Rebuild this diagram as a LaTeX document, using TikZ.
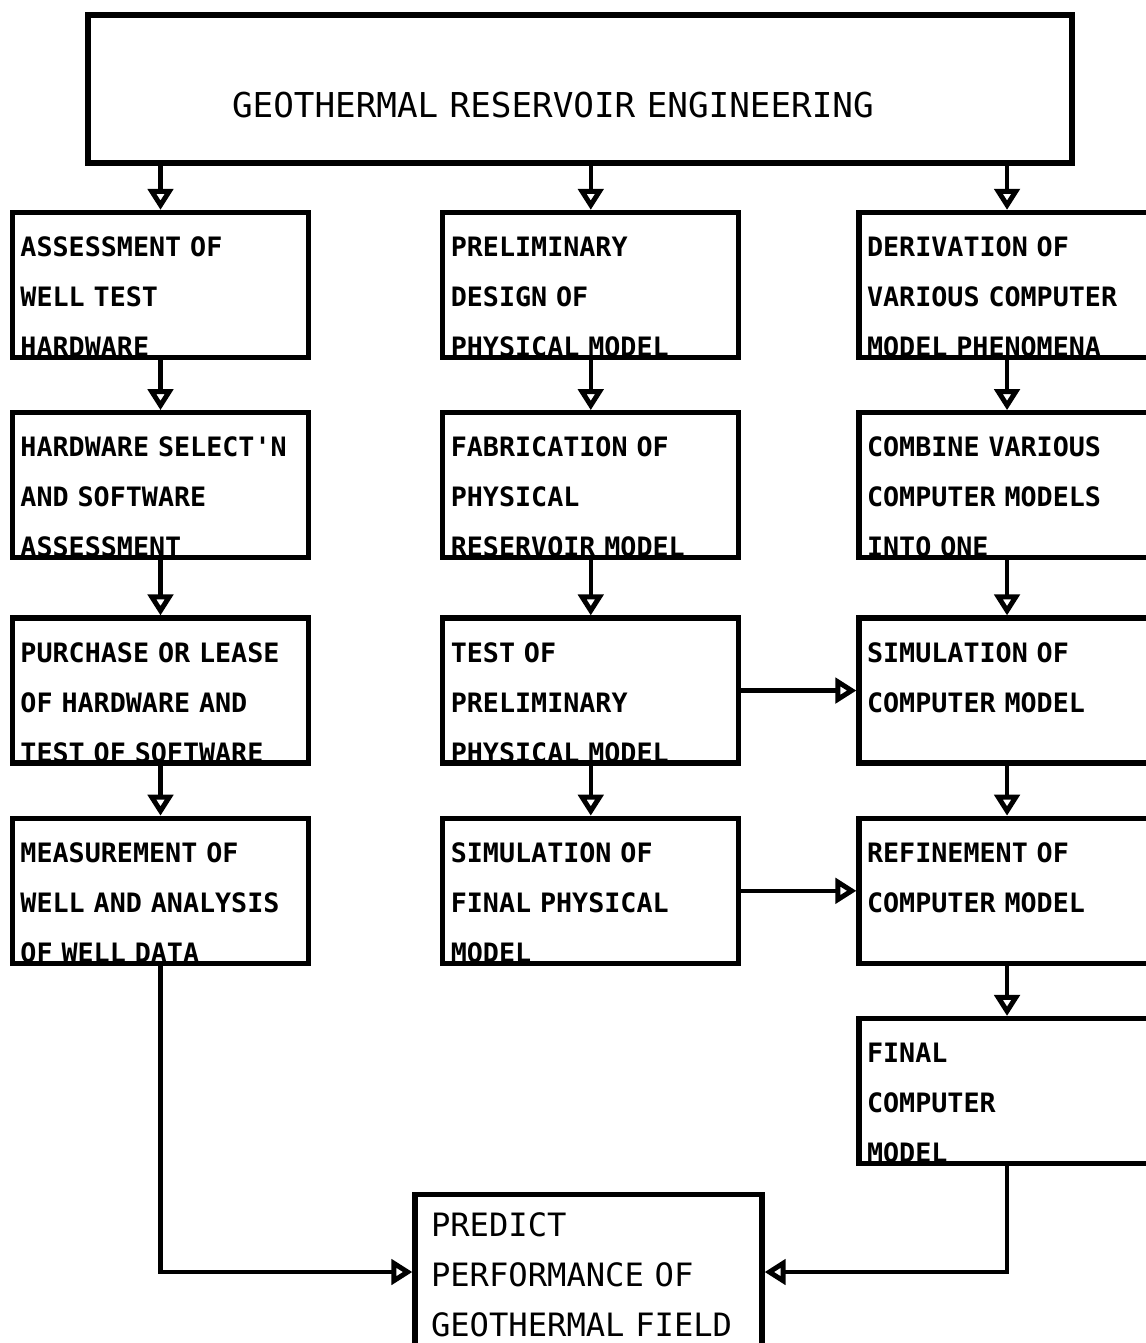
\documentclass[tikz,border=0pt]{standalone}
\usepackage{fontspec}
\setmonofont{DejaVu Sans Mono}
\usetikzlibrary{positioning,arrows.meta}

\begin{document}
\begin{tikzpicture}[
	heading/.style={rectangle, draw=black, line width=3pt, inner xsep=2.88cm, inner ysep=0pt, text width=13.92cm, align=left, text height=2.04cm, text depth=0.92cm, font=\ttfamily\fontsize{19.5}{28.5}\selectfont},
	stage/.style={rectangle, draw=black, line width=3pt, inner xsep=0.16cm, inner ysep=0pt, text width=5.6cm, align=left, text height=0.88cm, text depth=2.02cm, font=\ttfamily\bfseries\fontsize{15.2}{28.5}\selectfont},
	outcome/.style={rectangle, draw=black, line width=3pt, inner xsep=0.32cm, inner ysep=0pt, text width=6.3cm, align=left, text height=0.84cm, text depth=2.26cm, font=\ttfamily\fontsize{18.3}{28.5}\selectfont},
	flow/.style={line width=2.4pt, -{Triangle[open, width=0.5cm, length=0.42cm, line width=2.8pt]}}
]
	\useasboundingbox (0,0) rectangle (22.92,-26.86);

	\node[heading] (geo) at (11.6,-1.78) {GEOTHERMAL RESERVOIR ENGINEERING};

	% well testing column
	\node[stage] (L1) at (3.21,-5.7) {ASSESSMENT OF\\WELL TEST\\HARDWARE};
	\node[stage] (L2) [below=1cm of L1] {HARDWARE SELECT'N\\AND SOFTWARE\\ASSESSMENT};
	\node[stage] (L3) [below=1.1cm of L2] {PURCHASE OR LEASE\\OF HARDWARE AND\\TEST OF SOFTWARE};
	\node[stage] (L4) [below=1cm of L3] {MEASUREMENT OF\\WELL AND ANALYSIS\\OF WELL DATA};

	% physical model column
	\node[stage] (M1) [right=2.58cm of L1] {PRELIMINARY\\DESIGN OF\\PHYSICAL MODEL};
	\node[stage] (M2) [below=1cm of M1] {FABRICATION OF\\PHYSICAL\\RESERVOIR MODEL};
	\node[stage] (M3) [below=1.1cm of M2] {TEST OF\\PRELIMINARY\\PHYSICAL MODEL};
	\node[stage] (M4) [below=1cm of M3] {SIMULATION OF\\FINAL PHYSICAL\\MODEL};

	% computer model column
	\node[stage] (R1) [right=2.3cm of M1] {DERIVATION OF\\VARIOUS COMPUTER\\MODEL PHENOMENA};
	\node[stage] (R2) [below=1cm of R1] {COMBINE VARIOUS\\COMPUTER MODELS\\INTO ONE};
	\node[stage] (R3) [below=1.1cm of R2] {SIMULATION OF\\COMPUTER MODEL};
	\node[stage] (R4) [below=1cm of R3] {REFINEMENT OF\\COMPUTER MODEL};
	\node[stage] (R5) [below=1cm of R4] {FINAL\\COMPUTER\\MODEL};

	\node[outcome] (predict) at (11.77,-25.44) {PREDICT\\PERFORMANCE OF\\GEOTHERMAL FIELD};

	\foreach \n in {L1,M1,R1}
		\draw[flow] (\n.north |- geo.south) -- (\n.north);
	\foreach \a/\b in {L1/L2,L2/L3,L3/L4,M1/M2,M2/M3,M3/M4,R1/R2,R2/R3,R3/R4,R4/R5}
		\draw[flow] (\a.south) -- (\b.north);
	\draw[flow] (M3.east) -- (R3.west);
	\draw[flow] (M4.east) -- (R4.west);
	\draw[flow] (L4.south) |- (predict.west);
	\draw[flow] (R5.south) |- (predict.east);
\end{tikzpicture}
\end{document}
